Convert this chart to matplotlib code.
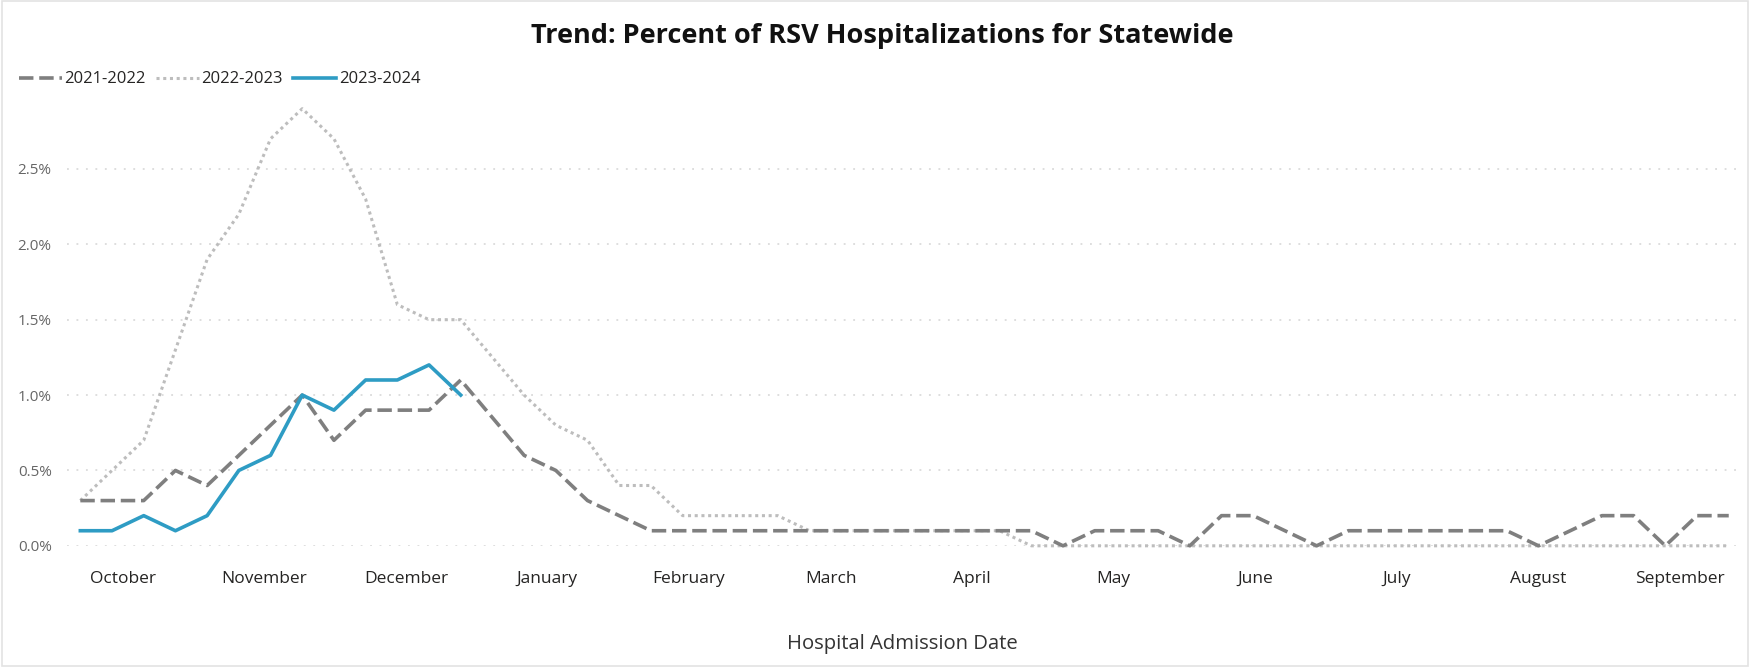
import matplotlib
matplotlib.use("Agg")
import matplotlib.pyplot as plt
from matplotlib.lines import Line2D
from matplotlib.patches import Rectangle
import numpy as np

plt.rcParams["font.family"] = ["Open Sans", "DejaVu Sans"]

# weekly percent of RSV hospitalizations, week 0 = start of October
season_2122 = [0.3, 0.3, 0.3, 0.5, 0.4, 0.6, 0.8, 1.0, 0.7, 0.9, 0.9, 0.9, 1.1, 0.85,
               0.6, 0.5, 0.3, 0.2, 0.1, 0.1, 0.1, 0.1, 0.1, 0.1, 0.1, 0.1, 0.1, 0.1,
               0.1, 0.1, 0.1, 0.0, 0.1, 0.1, 0.1, 0.0, 0.2, 0.2, 0.1, 0.0, 0.1, 0.1,
               0.1, 0.1, 0.1, 0.1, 0.0, 0.1, 0.2, 0.2, 0.0, 0.2, 0.2]
season_2223 = [0.3, 0.5, 0.7, 1.3, 1.9, 2.2, 2.7, 2.9, 2.7, 2.3, 1.6, 1.5, 1.5, 1.25,
               1.0, 0.8, 0.7, 0.4, 0.4, 0.2, 0.2, 0.2, 0.2, 0.1, 0.1, 0.1, 0.1, 0.1,
               0.1, 0.1, 0.0, 0.0, 0.0, 0.0, 0.0, 0.0, 0.0, 0.0, 0.0, 0.0, 0.0, 0.0,
               0.0, 0.0, 0.0, 0.0, 0.0, 0.0, 0.0, 0.0, 0.0, 0.0, 0.0]
season_2324 = [0.1, 0.1, 0.2, 0.1, 0.2, 0.5, 0.6, 1.0, 0.9, 1.1, 1.1, 1.2, 1.0]

months = ["October", "November", "December", "January", "February", "March",
          "April", "May", "June", "July", "August", "September"]
y_ticks = [0.0, 0.5, 1.0, 1.5, 2.0, 2.5]

DARK = "#7f7f7f"
LIGHT = "#bdbdbd"
BLUE = "#2e9cc4"

fig = plt.figure(figsize=(17.5, 6.67), dpi=100)
ax = fig.add_axes([0.0383, 0.1817, 0.9577, 0.678])

ax.plot(np.arange(len(season_2223)), season_2223, color=LIGHT, lw=2.2,
        ls=(0, (1, 1.2)), clip_on=False, label="2022-2023", zorder=2)
ax.plot(np.arange(len(season_2122)), season_2122, color=DARK, lw=2.6,
        ls=(0, (4, 1.6)), clip_on=False, label="2021-2022", zorder=3)
ax.plot(np.arange(len(season_2324)), season_2324, color=BLUE, lw=2.6,
        clip_on=False, label="2023-2024", zorder=4)

ax.set_xlim(-0.42, 52.45)
ax.set_ylim(0, 3.0)
ax.set_yticks(y_ticks)
ax.set_yticklabels([f"{v:.1f}%" for v in y_ticks], color="#666666", fontsize=11)
ax.set_xticks(1.34 + 4.465 * np.arange(len(months)))
ax.set_xticklabels(months, fontsize=12.5, color="#252423")
ax.tick_params(axis="both", length=0)
ax.tick_params(axis="x", pad=18)
ax.tick_params(axis="y", pad=11)
ax.grid(axis="y", color="#d4d4d4", lw=1.1, ls=(0, (1.2, 5)))
ax.set_axisbelow(True)
for s in ax.spines.values():
    s.set_visible(False)

fig.text(0.504, 0.946, "Trend: Percent of RSV Hospitalizations for Statewide",
         ha="center", va="center", fontsize=19.5, fontweight="bold", color="#111111")
fig.text(0.5154, 0.0345, "Hospital Admission Date", ha="center", va="center",
         fontsize=14.6, color="#333333")

handles = [
    Line2D([], [], color=DARK, lw=2.6, ls=(0, (4, 1.6))),
    Line2D([], [], color=LIGHT, lw=2.2, ls=(0, (1, 1.2))),
    Line2D([], [], color=BLUE, lw=2.6),
]
fig.legend(handles, ["2021-2022", "2022-2023", "2023-2024"], loc="center left",
           bbox_to_anchor=(0.002, 0.881), ncol=3, frameon=False, fontsize=12,
           handlelength=2.6, handletextpad=0.15, columnspacing=0.6,
           labelcolor="#252423")

fig.patches.append(Rectangle((0.001, 0.001), 0.998, 0.997, transform=fig.transFigure,
                             fill=False, edgecolor="#e3e3e3", lw=1.2))

fig.savefig("out.png", dpi=100, facecolor="white")
